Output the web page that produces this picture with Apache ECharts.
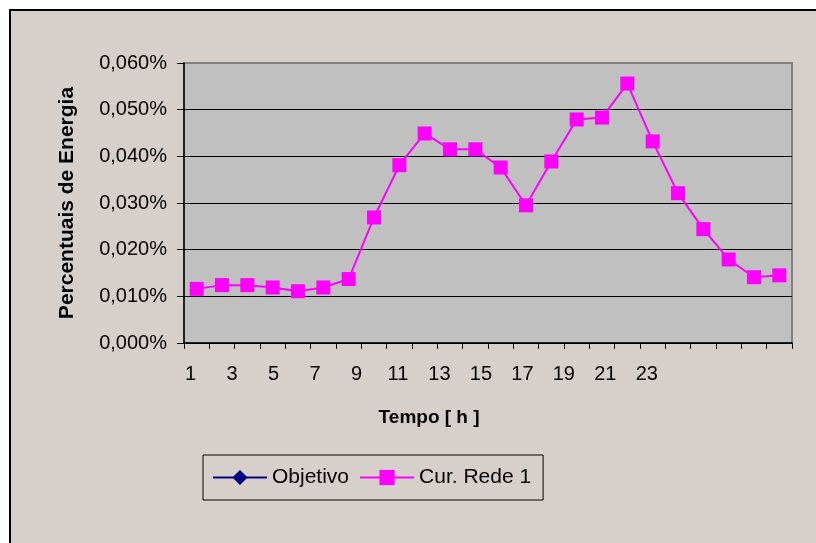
<!DOCTYPE html>
<html>
<head>
<meta charset="utf-8">
<script src="https://cdn.jsdelivr.net/npm/echarts@6/dist/echarts.min.js"></script>
<style>
html,body{margin:0;padding:0;background:#fff;}
#c{width:816px;height:543px;}
</style>
</head>
<body>
<div id="c"></div>
<script>
// Data (percent values)
var hours = ['1','2','3','4','5','6','7','8','9','10','11','12','13','14','15','16','17','18','19','20','21','22','23','24'];
var curRede1 = [0.0116,0.0124,0.0124,0.0119,0.0111,0.0119,0.0137,0.0269,0.0381,0.0449,0.0415,0.0415,0.0376,0.0295,0.0389,0.0479,0.0483,0.0556,0.0432,0.0321,0.0244,0.0179,0.0141,0.0145];
var objetivo = [null,null,null,null,null,null,null,null,null,null,null,null,null,null,null,null,null,null,null,null,null,null,null,null];
var yTicks = [0,0.01,0.02,0.03,0.04,0.05,0.06];

var FONT = "'Liberation Sans', Arial, sans-serif";
var chart = echarts.init(document.getElementById('c'), null, {renderer:'canvas'});
chart.setOption({
  backgroundColor:'#ffffff',
  animation:false,
  textStyle:{fontFamily:FONT},
  graphic:[{
    type:'rect', z:-10, silent:true,
    shape:{x:10,y:10,width:1000,height:800},
    style:{fill:'#d7d0ca',stroke:'#000000',lineWidth:2}
  }],
  grid:[
    {left:184,right:24,top:63,bottom:200,show:true,backgroundColor:'#c0c0c0',borderColor:'#808080',borderWidth:2,containLabel:false},
    {left:180.3,width:497.6,top:63,bottom:200,show:false,containLabel:false}
  ],
  legend:{
    left:203, top:455,
    padding:[12,12,12,9],
    itemGap:10,
    itemWidth:54, itemHeight:19,
    borderColor:'#000000', borderWidth:1,
    backgroundColor:'#d7d0ca',
    textStyle:{fontFamily:FONT,fontSize:21,color:'#000'},
    data:['Objetivo','Cur. Rede 1']
  },
  xAxis:[
    {type:'category',gridIndex:0,data:hours,boundaryGap:true,
     axisLine:{lineStyle:{color:'#000',width:1.5}},
     axisTick:{show:true,interval:0,length:6,lineStyle:{color:'#000'}},
     axisLabel:{show:false},splitLine:{show:false}},
    {type:'category',gridIndex:1,data:hours,boundaryGap:true,
     axisLine:{show:false},axisTick:{show:false},
     axisLabel:{show:true,interval:1,margin:21,fontSize:20,color:'#000',fontFamily:FONT},
     name:'Tempo [ h ]',nameLocation:'middle',nameGap:65,
     nameTextStyle:{fontSize:19,fontWeight:'bold',color:'#000',fontFamily:FONT}}
  ],
  yAxis:[
    {type:'value',gridIndex:0,min:0,max:0.06,interval:0.01,
     axisLine:{show:true,lineStyle:{color:'#000',width:1.5}},
     axisTick:{show:true,length:7,lineStyle:{color:'#000'}},
     axisLabel:{margin:17,fontSize:20,color:'#000',fontFamily:FONT,
       formatter:function(v){return v.toFixed(3).replace('.',',')+'%';}},
     splitLine:{show:true,lineStyle:{color:['#000','#000','#000','#000','#000','#000','#808080'],width:1}},
     name:'Percentuais de Energia',nameLocation:'middle',nameGap:106,
     nameTextStyle:{fontSize:21,fontWeight:'bold',color:'#000',fontFamily:FONT}},
    {type:'value',gridIndex:1,show:false,min:0,max:0.06}
  ],
  series:[
    {name:'Objetivo',type:'line',xAxisIndex:0,yAxisIndex:0,data:objetivo,
     symbol:'diamond',symbolSize:12,
     itemStyle:{color:'#000080'},lineStyle:{color:'#000080',width:1.5}},
    {name:'Cur. Rede 1',type:'line',xAxisIndex:0,yAxisIndex:0,data:curRede1,
     symbol:'rect',symbolSize:14,
     itemStyle:{color:'#ff00ff'},lineStyle:{color:'#ff00ff',width:2}}
  ]
});
</script>
</body>
</html>
